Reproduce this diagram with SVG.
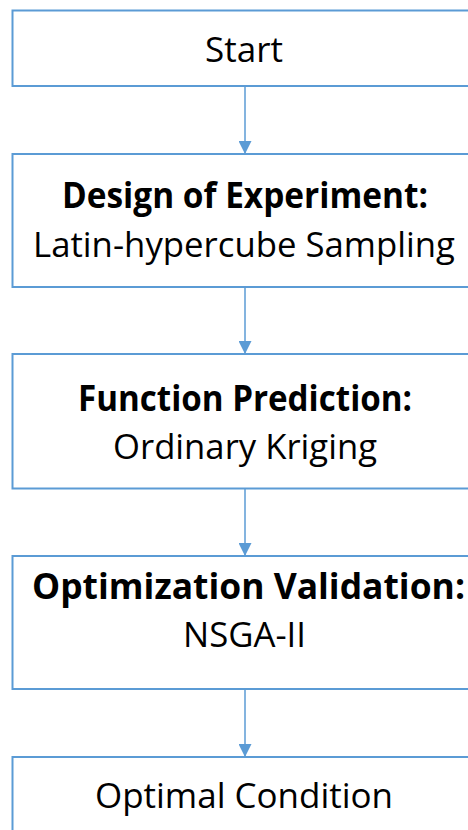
<svg xmlns="http://www.w3.org/2000/svg" width="468" height="830" viewBox="0 0 468 830">
<style>
.box{fill:#fff;stroke:#5B9BD5;stroke-width:2}
.t{font-family:"Open Sans","Liberation Sans",sans-serif;font-size:35px;fill:#000;text-anchor:middle}
.b{font-weight:bold}
.c{stroke:#5B9BD5;stroke-width:1.5;fill:none}
</style>
<defs>
<marker id="ah" markerUnits="userSpaceOnUse" markerWidth="14" markerHeight="13" refX="13" refY="6.5" orient="auto">
<path d="M0,0 L13,6.5 L0,13 Z" fill="#5B9BD5"/>
</marker>
</defs>
<rect width="468" height="830" fill="#fff"/>
<g id="connectors">
<line class="c" x1="245" y1="87" x2="245" y2="154" marker-end="url(#ah)"/>
<line class="c" x1="245" y1="288" x2="245" y2="354" marker-end="url(#ah)"/>
<line class="c" x1="245" y1="489" x2="245" y2="556" marker-end="url(#ah)"/>
<line class="c" x1="245" y1="690" x2="245" y2="757" marker-end="url(#ah)"/>
</g>
<g id="start">
<rect class="box" x="12.5" y="10.5" width="470" height="75.5"/>
<text class="t" x="244" y="61.5" textLength="78" lengthAdjust="spacingAndGlyphs">Start</text>
</g>
<g id="doe">
<rect class="box" x="12.5" y="154" width="470" height="133"/>
<text class="t b" x="245" y="208" textLength="366" lengthAdjust="spacingAndGlyphs">Design of Experiment:</text>
<text class="t" x="244" y="256.5" textLength="422" lengthAdjust="spacingAndGlyphs">Latin-hypercube Sampling</text>
</g>
<g id="prediction">
<rect class="box" x="12.5" y="354" width="470" height="134.5"/>
<text class="t b" x="245" y="410.5" textLength="334" lengthAdjust="spacingAndGlyphs">Function Prediction:</text>
<text class="t" x="245" y="459" textLength="264" lengthAdjust="spacingAndGlyphs">Ordinary Kriging</text>
</g>
<g id="optimization">
<rect class="box" x="12.5" y="556" width="470" height="133"/>
<text class="t b" x="248.5" y="599" textLength="433" lengthAdjust="spacingAndGlyphs">Optimization Validation:</text>
<text class="t" x="244.5" y="647" textLength="123" lengthAdjust="spacingAndGlyphs">NSGA-II</text>
</g>
<g id="optimal">
<rect class="box" x="12.5" y="757" width="470" height="100"/>
<text class="t" x="244" y="808" textLength="298" lengthAdjust="spacingAndGlyphs">Optimal Condition</text>
</g>
</svg>
